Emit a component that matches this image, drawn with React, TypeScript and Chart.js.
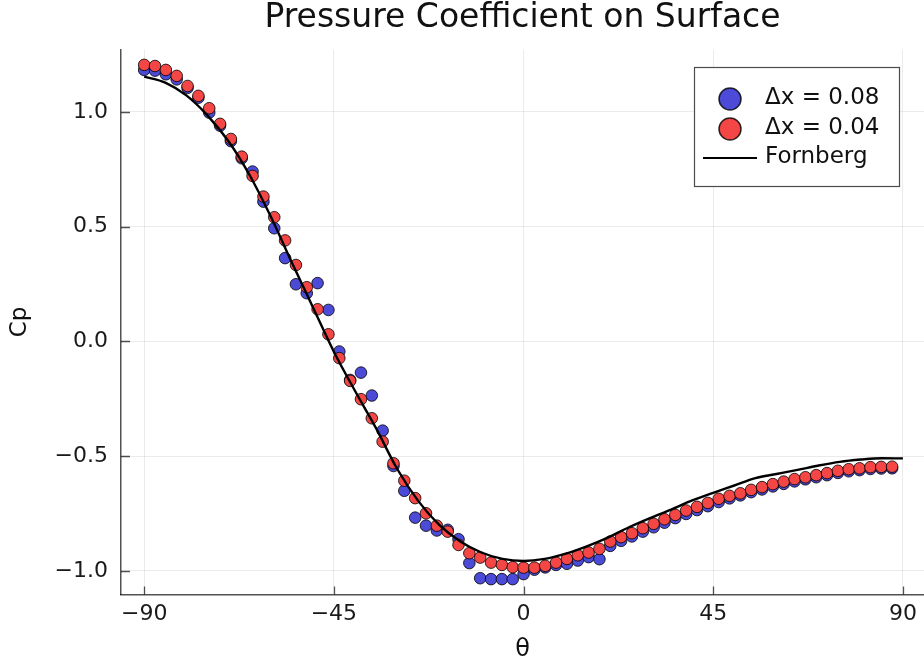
import React, { useEffect, useRef } from "react";
import { Chart, registerables } from "chart.js";

Chart.register(...registerables);

// θ (degrees) sample locations on the surface
const theta = [
  -90, -87.43, -84.86, -82.29, -79.71, -77.14, -74.57, -72, -69.43, -66.86,
  -64.29, -61.71, -59.14, -56.57, -54, -51.43, -48.86, -46.29, -43.71, -41.14,
  -38.57, -36, -33.43, -30.86, -28.29, -25.71, -23.14, -20.57, -18, -15.43,
  -12.86, -10.29, -7.71, -5.14, -2.57, 0, 2.57, 5.14, 7.71, 10.29,
  12.86, 15.43, 18, 20.57, 23.14, 25.71, 28.29, 30.86, 33.43, 36,
  38.57, 41.14, 43.71, 46.29, 48.86, 51.43, 54, 56.57, 59.14, 61.71,
  64.29, 66.86, 69.43, 72, 74.57, 77.14, 79.71, 82.29, 84.86, 87.43,
];

// Cp for Δx = 0.08
const cpDx008 = [
  1.183, 1.18, 1.164, 1.142, 1.105, 1.062, 0.997, 0.94, 0.873, 0.798,
  0.74, 0.609, 0.493, 0.363, 0.249, 0.21, 0.254, 0.137, -0.044, -0.168,
  -0.136, -0.236, -0.389, -0.543, -0.651, -0.768, -0.803, -0.824, -0.821, -0.862,
  -0.966, -1.032, -1.036, -1.036, -1.036, -1.014, -0.995, -0.985, -0.974, -0.969,
  -0.955, -0.94, -0.949, -0.891, -0.869, -0.85, -0.829, -0.81, -0.79, -0.77,
  -0.752, -0.735, -0.718, -0.7, -0.684, -0.671, -0.657, -0.645, -0.632, -0.621,
  -0.61, -0.601, -0.592, -0.583, -0.573, -0.566, -0.561, -0.556, -0.554, -0.553,
];

// Cp for Δx = 0.04
const cpDx004 = [
  1.205, 1.2, 1.183, 1.157, 1.113, 1.07, 1.016, 0.948, 0.882, 0.805,
  0.721, 0.631, 0.541, 0.44, 0.333, 0.236, 0.14, 0.031, -0.073, -0.172,
  -0.252, -0.335, -0.437, -0.531, -0.607, -0.683, -0.749, -0.803, -0.829, -0.887,
  -0.923, -0.942, -0.964, -0.974, -0.984, -0.986, -0.986, -0.978, -0.964, -0.948,
  -0.932, -0.92, -0.904, -0.872, -0.853, -0.836, -0.814, -0.795, -0.775, -0.756,
  -0.737, -0.721, -0.704, -0.686, -0.673, -0.662, -0.647, -0.635, -0.622, -0.611,
  -0.6, -0.592, -0.583, -0.574, -0.564, -0.557, -0.553, -0.548, -0.547, -0.546,
];

// Fornberg reference solution
const fornbergTheta = [
  -90, -85, -80, -75, -70, -65, -60, -55, -50, -45, -40, -35, -30, -25, -20, -15, -10, -5, 0,
  5, 10, 15, 20, 25, 30, 35, 40, 45, 50, 55, 60, 65, 70, 75, 80, 85, 90,
];
const fornbergCp = [
  1.154, 1.128, 1.072, 0.985, 0.872, 0.725, 0.545, 0.345, 0.15, -0.045, -0.215, -0.378, -0.555,
  -0.695, -0.8, -0.872, -0.92, -0.948, -0.957,
  -0.948, -0.925, -0.893, -0.855, -0.81, -0.77, -0.733, -0.693, -0.66, -0.628, -0.596, -0.578,
  -0.56, -0.541, -0.525, -0.515, -0.509, -0.51,
];

const xTickValues = [-90, -45, 0, 45, 90];
const yTickValues = [-1, -0.5, 0, 0.5, 1];
const seriesLabels = ["Δx = 0.08", "Δx = 0.04", "Fornberg"];

const FONT = "'DejaVu Sans', 'Noto Sans', sans-serif";
const AXIS_COLOR = "rgba(0,0,0,0.68)";
const GRID_COLOR = "rgba(0,0,0,0.08)";
const BLUE = "rgb(75,75,215)";
const RED = "rgb(245,70,70)";
const MARKER_EDGE = "rgba(0,0,0,0.8)";

const minus = (s: string) => s.replace("-", "\u2212");

const decorPlugin = {
  id: "decor",
  beforeDatasetsDraw(chart: any) {
    const { ctx, chartArea, scales } = chart;
    ctx.save();
    ctx.strokeStyle = AXIS_COLOR;
    ctx.lineWidth = 1.3;
    ctx.beginPath();
    for (const v of xTickValues) {
      const px = Math.round(scales.x.getPixelForValue(v)) + 0.5;
      ctx.moveTo(px, chartArea.bottom);
      ctx.lineTo(px, chartArea.bottom - 8);
    }
    for (const v of yTickValues) {
      const py = Math.round(scales.y.getPixelForValue(v)) + 0.5;
      ctx.moveTo(chartArea.left, py);
      ctx.lineTo(chartArea.left + 9, py);
    }
    ctx.stroke();
    ctx.restore();
  },
  afterDatasetsDraw(chart: any) {
    const { ctx, chartArea } = chart;
    const boxW = 206;
    const boxH = 120;
    const right = chartArea.right - 24;
    const left = right - boxW;
    const top = chartArea.top + 17.5;
    ctx.save();
    ctx.fillStyle = "#ffffff";
    ctx.fillRect(left, top, boxW, boxH);
    ctx.strokeStyle = "rgba(0,0,0,0.7)";
    ctx.lineWidth = 1.2;
    ctx.strokeRect(left + 0.5, top + 0.5, boxW - 1, boxH - 1);

    const rows = [top + 32, top + 62, top + 91];
    const symX = left + 36;
    const textX = left + 71;
    const fills = [BLUE, RED];
    for (let i = 0; i < 2; i++) {
      ctx.beginPath();
      ctx.arc(symX, rows[i], 11, 0, Math.PI * 2);
      ctx.fillStyle = fills[i];
      ctx.fill();
      ctx.lineWidth = 1.5;
      ctx.strokeStyle = MARKER_EDGE;
      ctx.stroke();
    }
    ctx.beginPath();
    ctx.moveTo(left + 9, rows[2]);
    ctx.lineTo(left + 63, rows[2]);
    ctx.strokeStyle = "#000";
    ctx.lineWidth = 2;
    ctx.stroke();
    ctx.fillStyle = "#111";
    ctx.font = `23px ${FONT}`;
    ctx.textBaseline = "middle";
    ctx.textAlign = "left";
    for (let i = 0; i < 3; i++) {
      ctx.fillText(seriesLabels[i], textX, rows[i] - 1);
    }
    ctx.restore();
  },
};

export default function App() {
  const canvasRef = useRef<HTMLCanvasElement | null>(null);

  useEffect(() => {
    document.body.style.margin = "0";
    const canvas = canvasRef.current;
    if (!canvas) return;

    const chart = new Chart(canvas, {
      type: "scatter",
      data: {
        datasets: [
          {
            label: seriesLabels[0],
            data: theta.map((t, i) => ({ x: t, y: cpDx008[i] })),
            backgroundColor: BLUE,
            borderColor: MARKER_EDGE,
            borderWidth: 1,
            pointRadius: 5.8,
            showLine: false,
            order: 3,
          },
          {
            label: seriesLabels[1],
            data: theta.map((t, i) => ({ x: t, y: cpDx004[i] })),
            backgroundColor: RED,
            borderColor: MARKER_EDGE,
            borderWidth: 1,
            pointRadius: 5.8,
            showLine: false,
            order: 2,
          },
          {
            label: seriesLabels[2],
            data: fornbergTheta.map((t, i) => ({ x: t, y: fornbergCp[i] })),
            showLine: true,
            borderColor: "#000",
            borderWidth: 2.4,
            pointRadius: 0,
            cubicInterpolationMode: "monotone",
            order: 1,
          } as any,
        ],
      },
      options: {
        animation: false,
        responsive: false,
        devicePixelRatio: 1,
        layout: { padding: 0, autoPadding: false },
        plugins: {
          legend: { display: false },
          tooltip: { enabled: false },
          title: {
            display: true,
            fullSize: false,
            text: "Pressure Coefficient on Surface",
            color: "#111",
            font: { family: FONT, size: 33, weight: "normal", lineHeight: 1 },
            padding: { top: 2, bottom: 14.5 },
          },
        },
        scales: {
          x: {
            type: "linear",
            min: -95.5,
            max: 95,
            afterBuildTicks: (s: any) => {
              s.ticks = xTickValues.map((v) => ({ value: v }));
            },
            afterFit: (s: any) => {
              s.height = 73.5;
              s.paddingLeft = 0;
              s.paddingRight = 0;
            },
            ticks: {
              color: "#1a1a1a",
              padding: 7,
              font: { family: FONT, size: 22 },
              maxRotation: 0,
              callback: (v: any) => minus(String(v)),
            },
            grid: { color: GRID_COLOR, lineWidth: 1, drawTicks: false },
            border: { display: true, color: AXIS_COLOR, width: 1.5 },
            title: {
              display: true,
              text: "θ",
              color: "#111",
              font: { family: FONT, size: 24 },
              padding: { top: 0, bottom: 4 },
            },
          },
          y: {
            type: "linear",
            min: -1.103,
            max: 1.272,
            afterBuildTicks: (s: any) => {
              s.ticks = yTickValues.map((v) => ({ value: v }));
            },
            afterFit: (s: any) => {
              s.width = 121;
              s.paddingTop = 0;
              s.paddingBottom = 0;
            },
            ticks: {
              color: "#1a1a1a",
              padding: 13,
              font: { family: FONT, size: 22 },
              callback: (v: any) => minus(Number(v).toFixed(1)),
            },
            grid: { color: GRID_COLOR, lineWidth: 1, drawTicks: false },
            border: { display: true, color: AXIS_COLOR, width: 1.5 },
            title: {
              display: true,
              text: "Cp",
              color: "#111",
              font: { family: FONT, size: 23 },
              padding: { top: 6, bottom: 0 },
            },
          },
        },
      },
      plugins: [decorPlugin],
    } as any);

    return () => {
      chart.destroy();
    };
  }, []);

  return (
    <div style={{ width: 924, height: 668, background: "#fff" }}>
      <canvas ref={canvasRef} width={924} height={668} style={{ display: "block" }} />
    </div>
  );
}
